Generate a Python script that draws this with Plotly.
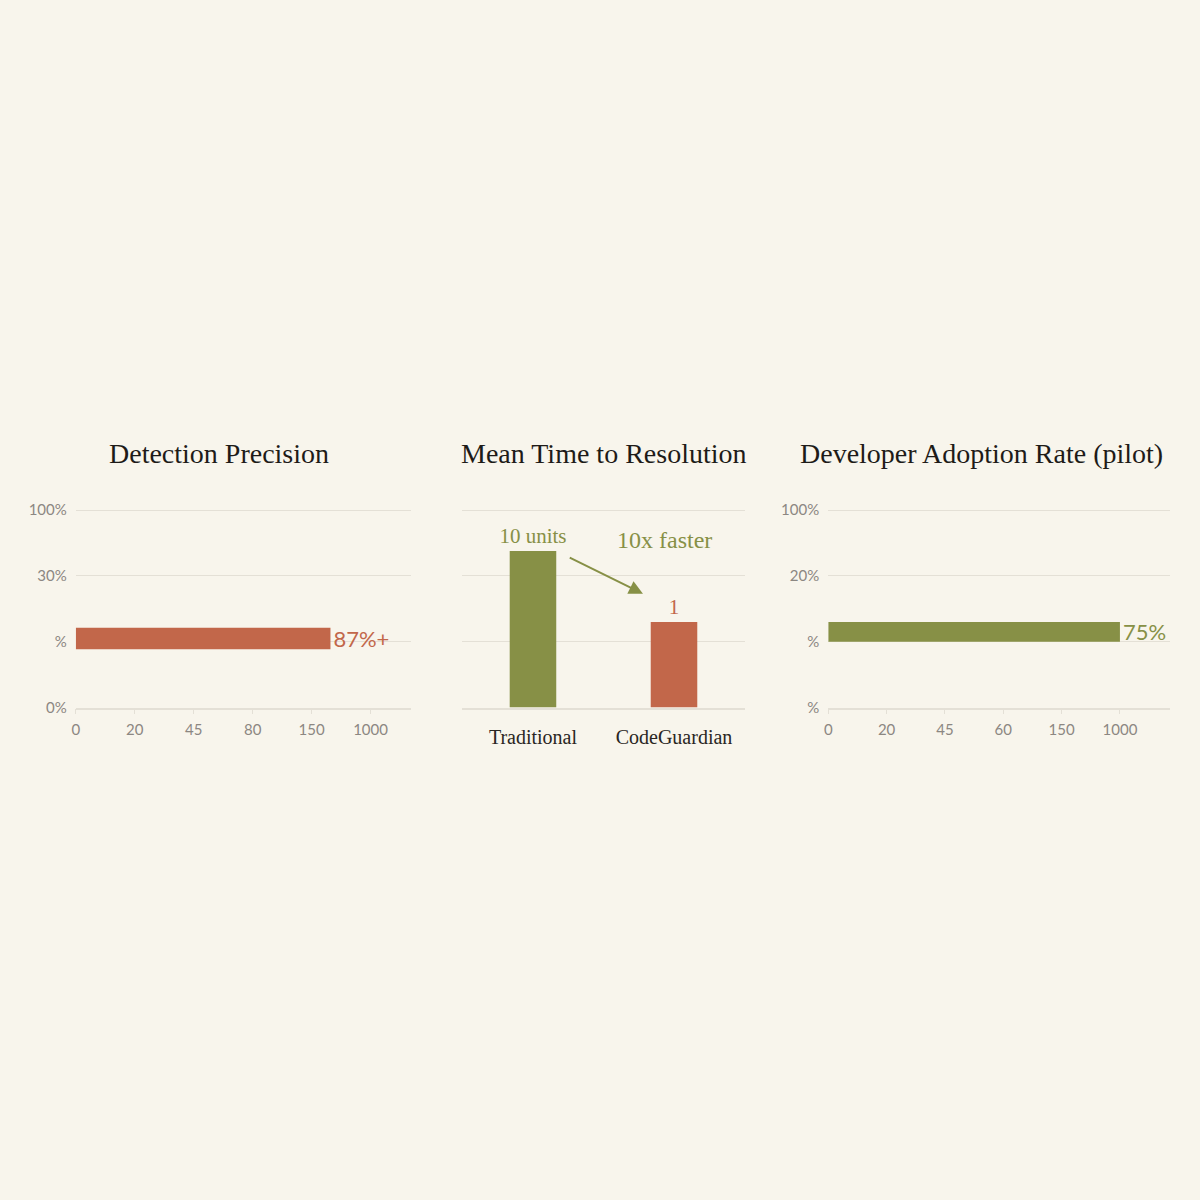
import plotly.graph_objects as go

# Panel titles
titles = ["Detection Precision", "Mean Time to Resolution", "Developer Adoption Rate (pilot)"]

# Left panel: Detection Precision (odd tick scale, values in tick-index units)
prec_x_ticks = ["0", "20", "45", "80", "150", "1000"]
prec_y_ticks = ["0%", "%", "30%", "100%"]
prec_bar_len = [4.32]
prec_bar_pos = [1.05]
prec_label = ["87%+"]

# Middle panel: Mean Time to Resolution
mttr_categories = ["Traditional", "CodeGuardian"]
mttr_values = [2.38, 1.3]
mttr_labels = ["10 units", "1"]

# Right panel: Developer Adoption Rate
adopt_x_ticks = ["0", "20", "45", "60", "150", "1000"]
adopt_y_ticks = ["%", "%", "20%", "100%"]
adopt_bar_len = [5.0]
adopt_bar_pos = [1.15]
adopt_label = ["75%"]

BG = "#F8F5EC"
ORANGE = "#C2674A"
GREEN = "#879046"
GRID = "#E4E0D6"
TICK = "#8C8782"
SERIF = "Liberation Serif, DejaVu Serif, serif"
SANS = "Lato, Open Sans, sans-serif"

fig = go.Figure()

# left
fig.add_trace(go.Bar(
    x=prec_bar_len, y=prec_bar_pos, orientation="h", width=0.33,
    marker=dict(color=ORANGE, line=dict(width=0)),
    text=prec_label, textposition="outside", constraintext="none",
    textfont=dict(color=ORANGE, size=22, family=SANS),
    xaxis="x", yaxis="y", cliponaxis=False, showlegend=False,
))

# middle
fig.add_trace(go.Bar(
    x=mttr_categories, y=mttr_values, width=0.33,
    marker=dict(color=[GREEN, ORANGE], line=dict(width=0)),
    text=mttr_labels, textposition="outside", constraintext="none",
    textfont=dict(color=[GREEN, ORANGE], size=21, family=SERIF),
    xaxis="x2", yaxis="y2", cliponaxis=False, showlegend=False,
))

# right
fig.add_trace(go.Bar(
    x=adopt_bar_len, y=adopt_bar_pos, orientation="h", width=0.3,
    marker=dict(color=GREEN, line=dict(width=0)),
    text=adopt_label, textposition="outside", constraintext="none",
    textfont=dict(color=GREEN, size=22, family=SANS),
    xaxis="x3", yaxis="y3", cliponaxis=False, showlegend=False,
))

# small headroom so the top gridline is drawn
yrange = [0, 3.03]
ydom = [1 - 709 / 1200, 1 - (509 - 2) / 1200]

def xaxis_cfg(dom, rng, ticks, anchor):
    return dict(
        domain=dom, range=rng, anchor=anchor, tickmode="array",
        tickvals=list(range(len(ticks))), ticktext=ticks,
        showgrid=False, zeroline=False, showline=True, linecolor=GRID, linewidth=1.5,
        ticks="outside", ticklen=5, tickcolor=GRID, ticklabelstandoff=3,
        tickfont=dict(family=SANS, size=15, color=TICK),
    )

def yaxis_cfg(anchor, ticks):
    return dict(
        domain=ydom, range=yrange, anchor=anchor, tickmode="array",
        tickvals=list(range(len(ticks))), ticktext=ticks,
        showgrid=True, gridcolor=GRID, gridwidth=1.2, zeroline=False,
        showline=False, ticks="", ticklabelstandoff=8,
        tickfont=dict(family=SANS, size=15, color=TICK),
    )

fig.update_layout(
    width=1200, height=1200,
    paper_bgcolor=BG, plot_bgcolor=BG,
    margin=dict(l=0, r=0, t=0, b=0),
    xaxis=xaxis_cfg([72 / 1200, 408 / 1200], [0, 5.68], prec_x_ticks, "y"),
    yaxis=yaxis_cfg("x", prec_y_ticks),
    xaxis2=dict(
        domain=[460 / 1200, 743 / 1200], anchor="y2", range=[-0.5, 1.5],
        showgrid=False, zeroline=False, showline=True, linecolor=GRID, linewidth=1.5,
        ticks="", tickfont=dict(family=SERIF, size=20, color="#2A2623"),
        ticklabelstandoff=11,
    ),
    yaxis2=dict(
        domain=ydom, anchor="x2", range=yrange, tickmode="array",
        tickvals=[0, 1, 2, 3], showticklabels=False,
        showgrid=True, gridcolor=GRID, gridwidth=1.2, zeroline=False,
    ),
    xaxis3=xaxis_cfg([827 / 1200, 1170 / 1200], [0, 5.86], adopt_x_ticks, "y3"),
    yaxis3=yaxis_cfg("x3", adopt_y_ticks),
)

title_x = [216 / 1200, 602 / 1200, 981 / 1200]
for t, tx in zip(titles, title_x):
    fig.add_annotation(
        text=t, x=tx, y=1 - 452 / 1200, xref="paper", yref="paper",
        xanchor="center", yanchor="middle",
        showarrow=False, font=dict(family=SERIF, size=28, color="#1E1B18"),
    )

# "10x faster" note and arrow in the middle panel
fig.add_annotation(
    text="10x faster", x=0.93, y=2.55, xref="x2", yref="y2",
    showarrow=False, font=dict(family=SERIF, size=24, color=GREEN),
)
fig.add_annotation(
    x=0.78, y=1.73, ax=0.25, ay=2.29, xref="x2", yref="y2", axref="x2", ayref="y2",
    text="", showarrow=True, arrowhead=2, arrowsize=1.4, arrowwidth=2, arrowcolor=GREEN,
)

page_js = "document.body.style.margin='0';document.body.style.background='%s';" % BG
fig.write_html("out.html", post_script=page_js, config={"displayModeBar": False})
